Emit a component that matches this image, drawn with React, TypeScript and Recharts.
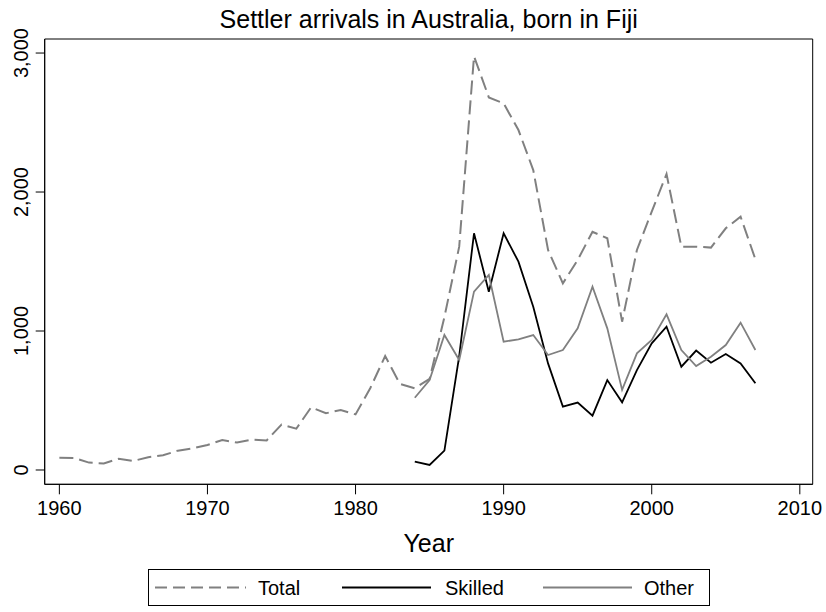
import { LineChart, Line, XAxis, YAxis, ReferenceArea, Legend, Customized } from 'recharts'

const years = [
  1960, 1961, 1962, 1963, 1964, 1965, 1966, 1967, 1968, 1969,
  1970, 1971, 1972, 1973, 1974, 1975, 1976, 1977, 1978, 1979,
  1980, 1981, 1982, 1983, 1984, 1985, 1986, 1987, 1988, 1989,
  1990, 1991, 1992, 1993, 1994, 1995, 1996, 1997, 1998, 1999,
  2000, 2001, 2002, 2003, 2004, 2005, 2006, 2007,
]

const total = [
  88, 86, 53, 47, 81, 65, 92, 106, 139, 156,
  180, 216, 197, 218, 213, 326, 297, 451, 408, 432,
  400, 590, 820, 619, 588, 655, 1100, 1607, 2977, 2681,
  2638, 2446, 2158, 1583, 1343, 1511, 1714, 1667, 1067, 1583,
  1859, 2129, 1607, 1607, 1600, 1739, 1823, 1516,
]

// skilled / other only reported from 1984
const splitFrom = 1984
const skilled = [
  60, 36, 139, 820, 1703, 1283, 1703, 1499, 1175, 767, 456, 485,
  391, 647, 487, 719, 911, 1031, 743, 859, 772, 835, 767, 624,
]
const other = [
  520, 647, 971, 791, 1283, 1403, 923, 940, 971, 827, 863, 1019,
  1319, 1019, 576, 839, 935, 1120, 863, 748, 815, 899, 1060, 863,
]

const xTicks = [1960, 1970, 1980, 1990, 2000, 2010]
const yTicks = [0, 1000, 2000, 3000]

const data = years.map((year, i) => {
  const j = year - splitFrom
  return {
    year,
    total: total[i],
    skilled: j >= 0 ? skilled[j] : null,
    other: j >= 0 ? other[j] : null,
  }
})

const FONT = '"Liberation Sans", Arial, sans-serif'
const X_DOMAIN = [1959.01, 2010.87]
const Y_DOMAIN = [-103, 3101]
const LEGEND_H = 37

function YTick({ x, y, payload }: any) {
  // rotated labels, baseline sits to the right of the glyphs
  const bx = x - 6
  return (
    <text
      x={bx}
      y={y}
      transform={`rotate(-90 ${bx} ${y})`}
      textAnchor="middle"
      fontSize={20}
      fontFamily={FONT}
      fill="#000"
    >
      {payload.value.toLocaleString('en-US')}
    </text>
  )
}

function XTick({ x, y, payload }: any) {
  return (
    <text x={x} y={y + 19} textAnchor="middle" fontSize={20} fontFamily={FONT} fill="#000">
      {payload.value}
    </text>
  )
}

function Titles() {
  return (
    <g fontFamily={FONT} fill="#000" textAnchor="middle">
      <text x={428.7} y={28} fontSize={25}>
        Settler arrivals in Australia, born in Fiji
      </text>
      <text x={428.7} y={552} fontSize={25}>
        Year
      </text>
    </g>
  )
}

const legendItems = [
  { label: 'Total', color: '#808080', dash: '12 6', x1: 7, x2: 98, tx: 110 },
  { label: 'Skilled', color: '#000', dash: undefined, x1: 194, x2: 283, tx: 297 },
  { label: 'Other', color: '#808080', dash: undefined, x1: 395, x2: 484, tx: 496 },
]

function LegendBox() {
  return (
    <svg width={562} height={LEGEND_H} style={{ display: 'block' }}>
      <rect x={0.5} y={0.5} width={561} height={LEGEND_H - 1} fill="#fff" stroke="#000" />
      {legendItems.map((it) => (
        <g key={it.label}>
          <line x1={it.x1} y1={18.5} x2={it.x2} y2={18.5} stroke={it.color} strokeWidth={2} strokeDasharray={it.dash} />
          <text x={it.tx} y={25.5} fontSize={20} fontFamily={FONT} fill="#000">
            {it.label}
          </text>
        </g>
      ))}
    </svg>
  )
}

export default function App() {
  return (
    <div style={{ position: 'absolute', left: 0, top: 0, width: 826, height: 612, background: '#fff' }}>
      <LineChart
        width={826}
        height={612}
        data={data}
        margin={{ top: 39, right: 13.3, bottom: 127.7 - 40 - LEGEND_H, left: 0 }}
      >
        <Customized component={Titles} />
        <XAxis
          dataKey="year"
          type="number"
          domain={X_DOMAIN}
          ticks={xTicks}
          allowDataOverflow
          height={40}
          tickSize={10}
          tick={<XTick />}
          stroke="#000"
        />
        <YAxis
          type="number"
          domain={Y_DOMAIN}
          ticks={yTicks}
          allowDataOverflow
          width={44.7}
          tickSize={9}
          tick={<YTick />}
          stroke="#000"
        />
        <ReferenceArea
          x1={X_DOMAIN[0]}
          x2={X_DOMAIN[1]}
          y1={Y_DOMAIN[0]}
          y2={Y_DOMAIN[1]}
          fill="none"
          stroke="#000"
          strokeWidth={1}
          ifOverflow="visible"
        />
        <Line dataKey="total" stroke="#808080" strokeWidth={2} strokeDasharray="14 6" dot={false} isAnimationActive={false} />
        <Line dataKey="skilled" stroke="#000" strokeWidth={1.8} dot={false} isAnimationActive={false} />
        <Line dataKey="other" stroke="#808080" strokeWidth={1.8} dot={false} isAnimationActive={false} />
        <Legend
          content={<LegendBox />}
          wrapperStyle={{ position: 'absolute', left: 148, top: 569, width: 562, height: LEGEND_H, bottom: 'auto' }}
        />
      </LineChart>
    </div>
  )
}
